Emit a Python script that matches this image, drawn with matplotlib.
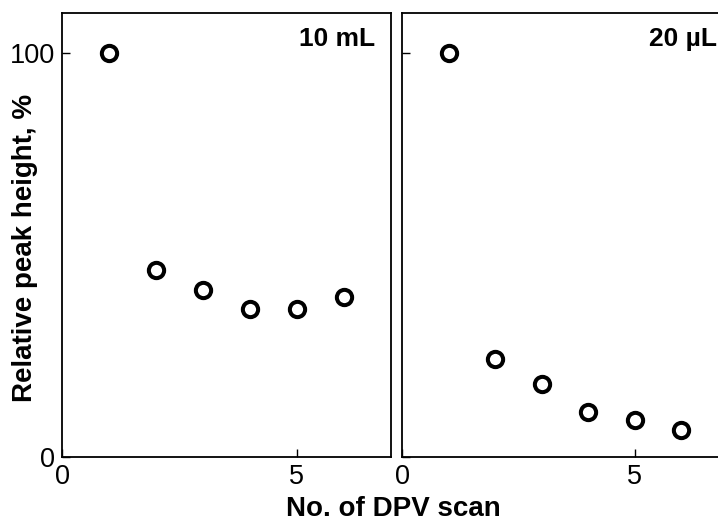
import numpy as np
import matplotlib.pyplot as plt

plt.rcParams['font.family'] = ['Liberation Sans', 'DejaVu Sans']

# scan number vs relative peak height (%)
scan = [1, 2, 3, 4, 5, 6]
height_10mL = [100, 46.3, 41.4, 36.5, 36.7, 39.6]
height_20uL = [100, 24.2, 18.1, 11.1, 9.2, 6.6]
panel_labels = ['10 mL', '20 µL']

W, H = 718, 522
fig = plt.figure(figsize=(W / 100, H / 100), dpi=100)

# axes boxes in pixels
ax1 = fig.add_axes([62.3 / W, (H - 456.7) / H, (390.7 - 62.3) / W, (456.7 - 12.7) / H])
ax2 = fig.add_axes([402.3 / W, (H - 456.7) / H, (727.8 - 402.3) / W, (456.7 - 12.7) / H])

for ax, y in zip([ax1, ax2], [height_10mL, height_20uL]):
    ax.plot(scan, y, 'o', ms=11, mfc='white', mec='black', mew=2.9, ls='none')
    ax.set_xlim(0, 7)
    ax.set_ylim(0, 110)
    ax.set_xticks([0, 5])
    ax.set_yticks([0, 100])
    ax.tick_params(direction='in', length=6, width=1, labelsize=19.5, pad=5)
    for s in ax.spines.values():
        s.set_linewidth(1.3)

ax2.set_yticklabels([])
ax1.text(6.67, 103.5, panel_labels[0], ha='right', va='center', fontsize=19, fontweight='bold')
ax2.text(6.77, 103.5, panel_labels[1], ha='right', va='center', fontsize=19, fontweight='bold')

fig.text(25 / W, 1 - 247.5 / H, 'Relative peak height, %', rotation=90, ha='center',
         va='center', fontsize=20, fontweight='bold')
fig.text(393.5 / W, 1 - 509 / H, 'No. of DPV scan', ha='center', va='center',
         fontsize=20, fontweight='bold')

fig.savefig('out.png', dpi=100)
